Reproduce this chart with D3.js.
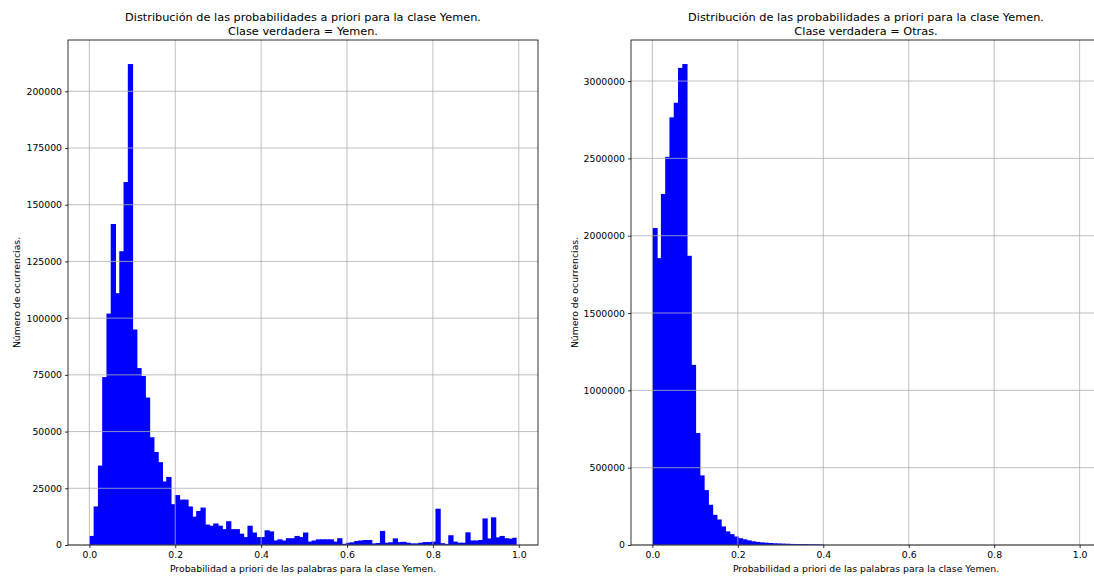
<!DOCTYPE html>
<html>
<head>
<meta charset="utf-8">
<script src="https://cdn.jsdelivr.net/npm/d3@7"></script>
<style>
  body { margin: 0; background: #fff; }
  text { font-family: "DejaVu Sans", sans-serif; fill: #000; }
</style>
</head>
<body>
<svg id="chart" width="1094" height="576"></svg>
<script>
// Histogram counts, 100 bins each.
var yemen_counts = [
    4000, 17000, 35000, 74000, 102000, 141500, 111000, 129500, 160000, 212000,
    95000, 78000, 74500, 65000, 47500, 41000, 36500, 28000, 30000, 18000,
    22000, 20000, 20000, 17000, 12500, 15000, 16500, 9000, 8500, 9500,
    8500, 7000, 10500, 7000, 7000, 5000, 3500, 8500, 5500, 3500,
    3500, 6500, 6000, 2000, 2500, 2000, 3000, 3000, 4000, 3500,
    5500, 1500, 2000, 2500, 2500, 2500, 2500, 1500, 3000, 500,
    1000, 1200, 1800, 2000, 2200, 2200, 700, 900, 6200, 1000,
    1200, 2900, 1300, 1400, 1000, 700, 700, 1000, 1300, 1300,
    1500, 16000, 800, 500, 4300, 1500, 1000, 1000, 5600, 2000,
    2000, 2200, 11700, 2900, 12200, 3400, 4000, 3000, 2800, 3200
];
var otras_counts = [
    2050000, 1855000, 2270000, 2510000, 2765000, 2860000, 3085000, 3110000, 1870000, 1165000,
    724000, 450000, 355000, 260000, 195000, 165000, 120000, 88000, 70000, 55000,
    44000, 37000, 30000, 24000, 20000, 17000, 15000, 13000, 11000, 10000,
    9000, 8000, 7000, 6500, 6000, 5500, 5000, 4500, 4000, 3500,
    0, 0, 0, 0, 0, 0, 0, 0, 0, 0,
    0, 0, 0, 0, 0, 0, 0, 0, 0, 0,
    0, 0, 0, 0, 0, 0, 0, 0, 0, 0,
    0, 0, 0, 0, 0, 0, 0, 0, 0, 0,
    0, 0, 0, 0, 0, 0, 0, 0, 0, 0,
    0, 0, 0, 0, 0, 0, 0, 0, 0, 0
];
var x_ticks = [0.0, 0.2, 0.4, 0.6, 0.8, 1.0];
var yemen_y_ticks = [0, 25000, 50000, 75000, 100000, 125000, 150000, 175000, 200000];
var otras_y_ticks = [0, 500000, 1000000, 1500000, 2000000, 2500000, 3000000];
var title_line1 = 'Distribución de las probabilidades a priori para la clase Yemen.';
var x_label = 'Probabilidad a priori de las palabras para la clase Yemen.';
var y_label = 'Número de ocurrencias.';

var panels = [
    { left: 68, counts: yemen_counts, range: [0, 0.995], yticks: yemen_y_ticks,
      title: 'Clase verdadera = Yemen.', ylab_dx: -48 },
    { left: 631, counts: otras_counts, range: [0, 1.0], yticks: otras_y_ticks,
      title: 'Clase verdadera = Otras.', ylab_dx: -53 }
];

var plot_top = 40, width = 470, height = 505;
var tick_font = '9.3px', title_font = '11.3px';
var svg = d3.select('#chart');

panels.forEach(function (p) {
    var lo = p.range[0], hi = p.range[1], span = hi - lo;
    var n = p.counts.length, bw = span / n;
    var bins = p.counts.map(function (c, i) {
        return { x0: lo + i * bw, x1: lo + (i + 1) * bw, count: c };
    });

    var x = d3.scaleLinear()
        .domain([lo - 0.05 * span, hi + 0.05 * span])
        .range([0, width]);
    var y = d3.scaleLinear()
        .domain([0, d3.max(p.counts) * 1.05])
        .range([height, 0]);

    var g = svg.append('g').attr('transform', 'translate(' + p.left + ',' + plot_top + ')');

    // bars (overlap a little so no seams show between neighbours)
    g.selectAll('rect.bar')
        .data(bins.filter(function (d) { return d.count > 0; }))
        .enter()
        .append('rect')
        .attr('class', 'bar')
        .attr('x', function (d) { return x(d.x0); })
        .attr('y', function (d) { return y(d.count); })
        .attr('width', function (d) {
            var w = x(d.x1) - x(d.x0);
            return d.x1 < hi - bw / 2 ? w + 1 : w;
        })
        .attr('height', function (d) { return height - y(d.count); })
        .attr('fill', '#0000ff');

    // grid on top of the bars
    g.selectAll('line.vgrid')
        .data(x_ticks)
        .enter()
        .append('line')
        .attr('x1', function (d) { return x(d); })
        .attr('x2', function (d) { return x(d); })
        .attr('y1', 0).attr('y2', height)
        .attr('stroke', '#b0b0b0').attr('stroke-width', 0.8);
    g.selectAll('line.hgrid')
        .data(p.yticks)
        .enter()
        .append('line')
        .attr('x1', 0).attr('x2', width)
        .attr('y1', function (d) { return y(d); })
        .attr('y2', function (d) { return y(d); })
        .attr('stroke', '#b0b0b0').attr('stroke-width', 0.8);

    // axes
    var xa = g.append('g')
        .attr('transform', 'translate(0,' + height + ')')
        .call(d3.axisBottom(x).tickValues(x_ticks).tickFormat(d3.format('.1f'))
              .tickSize(3).tickSizeOuter(0).tickPadding(3));
    var ya = g.append('g')
        .call(d3.axisLeft(y).tickValues(p.yticks).tickFormat(d3.format('d'))
              .tickSize(3).tickSizeOuter(0).tickPadding(3));
    [xa, ya].forEach(function (a) {
        a.select('.domain').remove();
        a.selectAll('text').style('font-size', tick_font)
         .style('font-family', '"DejaVu Sans", sans-serif').attr('fill', '#000');
        a.selectAll('line').attr('stroke', '#000').attr('stroke-width', 0.8);
    });

    // frame
    g.append('rect')
        .attr('x', 0).attr('y', 0)
        .attr('width', width).attr('height', height)
        .attr('fill', 'none')
        .attr('stroke', '#000').attr('stroke-width', 0.8);

    // titles and labels
    g.append('text')
        .attr('x', width / 2).attr('y', -19)
        .attr('text-anchor', 'middle')
        .style('font-size', title_font)
        .text(title_line1);
    g.append('text')
        .attr('x', width / 2).attr('y', -5)
        .attr('text-anchor', 'middle')
        .style('font-size', title_font)
        .text(p.title);
    g.append('text')
        .attr('x', width / 2).attr('y', height + 27)
        .attr('text-anchor', 'middle')
        .style('font-size', tick_font)
        .text(x_label);
    g.append('text')
        .attr('transform', 'translate(' + p.ylab_dx + ',' + (height / 2) + ') rotate(-90)')
        .attr('text-anchor', 'middle')
        .style('font-size', tick_font)
        .text(y_label);
});
</script>
</body>
</html>
